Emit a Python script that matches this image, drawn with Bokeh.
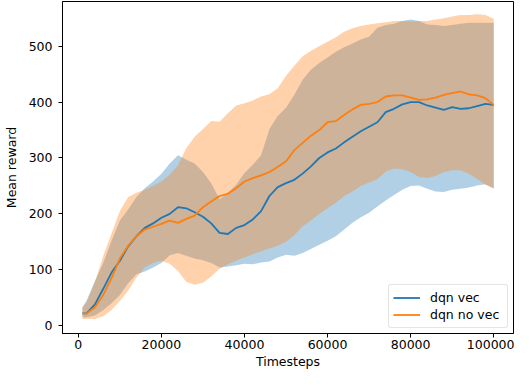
from bokeh.plotting import figure
from bokeh.models import ColumnDataSource, FixedTicker, NumeralTickFormatter, Range1d, Legend, LegendItem
from bokeh.embed import file_html
from bokeh.resources import INLINE

# ---- data ----
timesteps = [1000, 2000, 4000, 6000, 8000, 10000, 12000, 14000, 16000, 18000,
             20000, 22000, 24000, 26000, 28000, 30000, 32000, 34000, 36000, 38000,
             40000, 42000, 44000, 46000, 48000, 50000, 52000, 54000, 56000, 58000,
             60000, 62000, 64000, 66000, 68000, 70000, 72000, 74000, 76000, 78000,
             80000, 82000, 84000, 86000, 88000, 90000, 92000, 94000, 96000, 98000, 100000]

vec_mean = [22, 22, 38, 66, 95, 116, 142, 160, 175, 183,
            193, 200, 212, 210, 203, 195, 183, 166, 164, 175,
            180, 190, 205, 232, 248, 255, 261, 272, 285, 300,
            310, 317, 328, 338, 348, 356, 364, 382, 388, 396,
            400, 400, 394, 390, 386, 391, 388, 389, 393, 397, 395]
vec_upper = [33, 45, 80, 112, 152, 188, 208, 230, 246, 258,
             272, 290, 305, 297, 290, 275, 255, 226, 238, 252,
             273, 288, 305, 352, 375, 390, 413, 440, 458, 470,
             480, 490, 498, 505, 512, 517, 533, 538, 540, 545,
             548, 545, 539, 538, 536, 538, 540, 542, 542, 542, 542]
vec_lower = [15, 15, 18, 28, 40, 55, 76, 92, 97, 104,
             112, 126, 130, 125, 120, 117, 112, 104, 106, 108,
             111, 110, 113, 115, 122, 127, 125, 130, 137, 145,
             152, 160, 172, 184, 194, 202, 213, 224, 234, 243,
             250, 251, 245, 240, 239, 243, 245, 247, 251, 253, 246]

novec_mean = [22, 22, 33, 55, 85, 120, 143, 160, 172, 177,
              182, 188, 184, 191, 197, 212, 222, 232, 236, 246,
              258, 264, 269, 275, 284, 294, 314, 327, 340, 350,
              364, 366, 377, 387, 395, 397, 400, 410, 412, 412,
              408, 404, 405, 408, 413, 416, 419, 414, 412, 407, 395]
novec_upper = [33, 42, 78, 125, 165, 205, 230, 238, 243, 250,
               258, 270, 287, 318, 338, 352, 366, 365, 380, 394,
               398, 403, 410, 414, 425, 447, 465, 482, 492, 500,
               508, 516, 526, 532, 536, 539, 541, 543, 545, 545,
               544, 545, 545, 548, 550, 553, 556, 556, 557, 556, 549]
novec_lower = [12, 12, 12, 17, 28, 44, 63, 86, 104, 112,
               116, 111, 98, 78, 73, 77, 88, 102, 110, 116,
               122, 128, 133, 138, 143, 150, 162, 178, 188, 200,
               210, 220, 232, 240, 250, 256, 262, 276, 281, 280,
               275, 266, 264, 268, 275, 278, 278, 272, 263, 252, 245]

x_ticks = [0, 20000, 40000, 60000, 80000, 100000]
y_ticks = [0, 100, 200, 300, 400, 500]
series_names = ["dqn vec", "dqn no vec"]
series_colors = ["#1f77b4", "#ff7f0e"]

src = ColumnDataSource(dict(x=timesteps,
                            vm=vec_mean, vu=vec_upper, vl=vec_lower,
                            nm=novec_mean, nu=novec_upper, nl=novec_lower))

FONT = "DejaVu Sans"
FS = "12.5px"

p = figure(width=514, height=372, output_backend="svg", toolbar_location=None,
           x_range=Range1d(-3810, 104760), y_range=Range1d(-14, 580),
           min_border_left=57, min_border_right=1, min_border_top=1, min_border_bottom=39)

p.varea(x="x", y1="vl", y2="vu", source=src, fill_color=series_colors[0], fill_alpha=0.35)
p.varea(x="x", y1="nl", y2="nu", source=src, fill_color=series_colors[1], fill_alpha=0.35)
r1 = p.line(x="x", y="vm", source=src, line_color=series_colors[0], line_width=1.8)
r2 = p.line(x="x", y="nm", source=src, line_color=series_colors[1], line_width=1.8)

legend = Legend(items=[LegendItem(label=series_names[0], renderers=[r1]),
                       LegendItem(label=series_names[1], renderers=[r2])],
                location="bottom_right")
legend.margin = 5
legend.padding = 4
legend.spacing = 0
legend.glyph_width = 27
legend.glyph_height = 17
legend.label_height = 17
legend.label_width = 73
legend.label_standoff = 10
legend.label_text_font = FONT
legend.label_text_font_size = FS
legend.label_text_color = "black"
legend.border_line_color = "#cccccc"
legend.border_line_width = 1
legend.background_fill_color = "white"
legend.background_fill_alpha = 0.8
if "border_radius" in legend.properties():
    legend.border_radius = 3
p.add_layout(legend)

p.xgrid.visible = False
p.ygrid.visible = False
p.outline_line_color = "black"
p.outline_line_width = 1
p.background_fill_color = "white"
p.border_fill_color = "white"

for ax in (p.xaxis[0], p.yaxis[0]):
    ax.axis_line_color = "black"
    ax.major_tick_line_color = "black"
    ax.major_tick_out = 4
    ax.major_tick_in = 0
    ax.minor_tick_line_color = None
    ax.major_label_text_font = FONT
    ax.major_label_text_font_size = FS
    ax.major_label_text_color = "black"
    ax.axis_label_text_font = FONT
    ax.axis_label_text_font_size = FS
    ax.axis_label_text_font_style = "normal"
    ax.axis_label_text_color = "black"

p.xaxis.ticker = FixedTicker(ticks=x_ticks)
p.yaxis.ticker = FixedTicker(ticks=y_ticks)
p.xaxis.formatter = NumeralTickFormatter(format="0")
p.yaxis.formatter = NumeralTickFormatter(format="0")
p.xaxis.axis_label = "Timesteps"
p.yaxis.axis_label = "Mean reward"
p.xaxis.major_label_standoff = 2
p.yaxis.major_label_standoff = 6
p.xaxis.axis_label_standoff = 2
p.yaxis.axis_label_standoff = 7

open("out.html", "w").write(file_html(p, INLINE))
